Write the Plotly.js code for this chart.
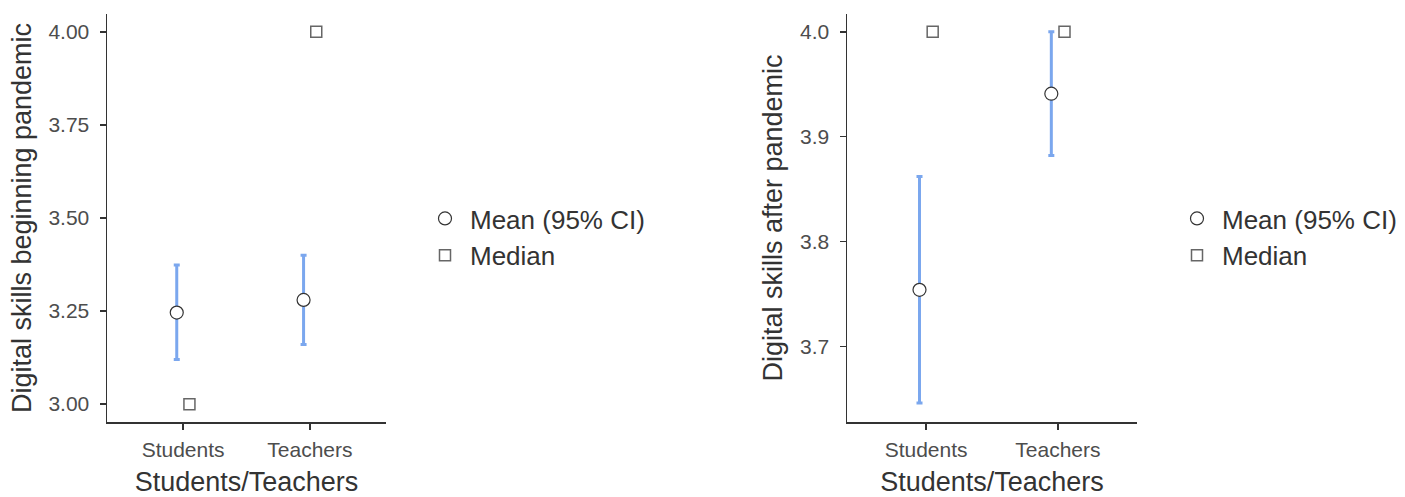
<!DOCTYPE html>
<html>
<head>
<meta charset="utf-8">
<script src="https://cdn.plot.ly/plotly-3.0.1.min.js"></script>
<style>html,body{margin:0;padding:0;background:#fff;}#chart{width:1405px;height:497px;}</style>
</head>
<body>
<div id="chart"></div>
<script>
// ---- data ----
const categories = ["Students", "Teachers"];
const meanBefore = [3.246, 3.280];
const ciLowBefore = [3.120, 3.160];
const ciHighBefore = [3.374, 3.400];
const medianBefore = [3.00, 4.00];

const meanAfter = [3.754, 3.941];
const ciLowAfter = [3.646, 3.882];
const ciHighAfter = [3.862, 4.000];
const medianAfter = [4.00, 4.00];

const yTicksBefore = [3.00, 3.25, 3.50, 3.75, 4.00];
const yTicksAfter = [3.7, 3.8, 3.9, 4.0];

// ---- build ----
const pos = categories.map((c, i) => i + 1);
const dodge = 0.05;
const meanX = pos.map(p => p - dodge);
const medX = pos.map(p => p + dodge);

const errColor = '#7ba7ee';
const FONT = 'Liberation Sans, Arial, sans-serif';

function meanTrace(means, lo, hi, xa, ya, leg, show) {
  return {
    type: 'scatter', mode: 'markers', name: 'Mean (95% CI)',
    x: meanX, y: means, xaxis: xa, yaxis: ya, legend: leg, showlegend: show,
    error_y: {type: 'data', symmetric: false,
      array: means.map((m, i) => hi[i] - m),
      arrayminus: means.map((m, i) => m - lo[i]),
      color: errColor, thickness: 3, width: 3},
    marker: {symbol: 'circle', size: 13, color: '#ffffff', line: {color: '#333333', width: 1.2}}
  };
}
function medianTrace(meds, xa, ya, leg, show) {
  return {
    type: 'scatter', mode: 'markers', name: 'Median',
    x: medX, y: meds, xaxis: xa, yaxis: ya, legend: leg, showlegend: show,
    marker: {symbol: 'square-open', size: 11, color: '#666666', line: {color: '#666666', width: 1.5}}
  };
}

const data = [
  meanTrace(meanBefore, ciLowBefore, ciHighBefore, 'x', 'y', 'legend', true),
  medianTrace(medianBefore, 'x', 'y', 'legend', true),
  meanTrace(meanAfter, ciLowAfter, ciHighAfter, 'x2', 'y2', 'legend2', true),
  medianTrace(medianAfter, 'x2', 'y2', 'legend2', true)
];

const W = 1405, H = 497;
const yDom = [(H - 422) / H, (H - 14) / H];

function xAxis(domain, anchor) {
  return {
    domain: domain, anchor: anchor, range: [0.4, 2.6],
    tickvals: pos, ticktext: categories,
    showline: true, linecolor: '#333333', linewidth: 1.5,
    ticks: 'outside', ticklen: 6, tickwidth: 1.5, tickcolor: '#333333',
    ticklabelstandoff: 2,
    showgrid: false, zeroline: false,
    tickfont: {family: FONT, size: 21, color: '#4d4d4d'},
    title: {text: 'Students/Teachers', font: {family: FONT, size: 27, color: '#333333'}, standoff: 22},
    automargin: false, fixedrange: true
  };
}
function yAxis(domain, anchor, range, ticks, fmt, title) {
  return {
    domain: domain, anchor: anchor, range: range,
    tickvals: ticks, ticktext: ticks.map(v => v.toFixed(fmt)),
    showline: true, linecolor: '#333333', linewidth: 1.5,
    ticks: 'outside', ticklen: 6, tickwidth: 1.5, tickcolor: '#333333',
    ticklabelstandoff: 6,
    showgrid: false, zeroline: false,
    tickfont: {family: FONT, size: 21, color: '#4d4d4d'},
    title: {text: title, font: {family: FONT, size: 27, color: '#333333'}, standoff: 9},
    automargin: false, fixedrange: true
  };
}

const legendBase = {
  font: {family: FONT, size: 26, color: '#333333'},
  bgcolor: 'rgba(0,0,0,0)', borderwidth: 0,
  xanchor: 'left', yanchor: 'middle', tracegroupgap: 0,
  itemwidth: 40
};

const layout = {
  width: W, height: H,
  margin: {l: 0, r: 0, t: 0, b: 0},
  paper_bgcolor: '#ffffff', plot_bgcolor: '#ffffff',
  font: {family: FONT},
  xaxis: xAxis([107 / W, 386 / W], 'y'),
  yaxis: yAxis(yDom, 'x', [2.952, 4.048], yTicksBefore, 2, 'Digital skills beginning pandemic'),
  xaxis2: xAxis([847 / W, 1137 / W], 'y2'),
  yaxis2: yAxis(yDom, 'x2', [3.628, 4.017], yTicksAfter, 1, 'Digital skills after pandemic'),
  legend: Object.assign({}, legendBase, {x: 420 / W, y: (H - 237) / H}),
  legend2: Object.assign({}, legendBase, {x: 1172 / W, y: (H - 237) / H}),
  showlegend: true
};

Plotly.newPlot('chart', data, layout, {displayModeBar: false, staticPlot: true});
</script>
</body>
</html>
